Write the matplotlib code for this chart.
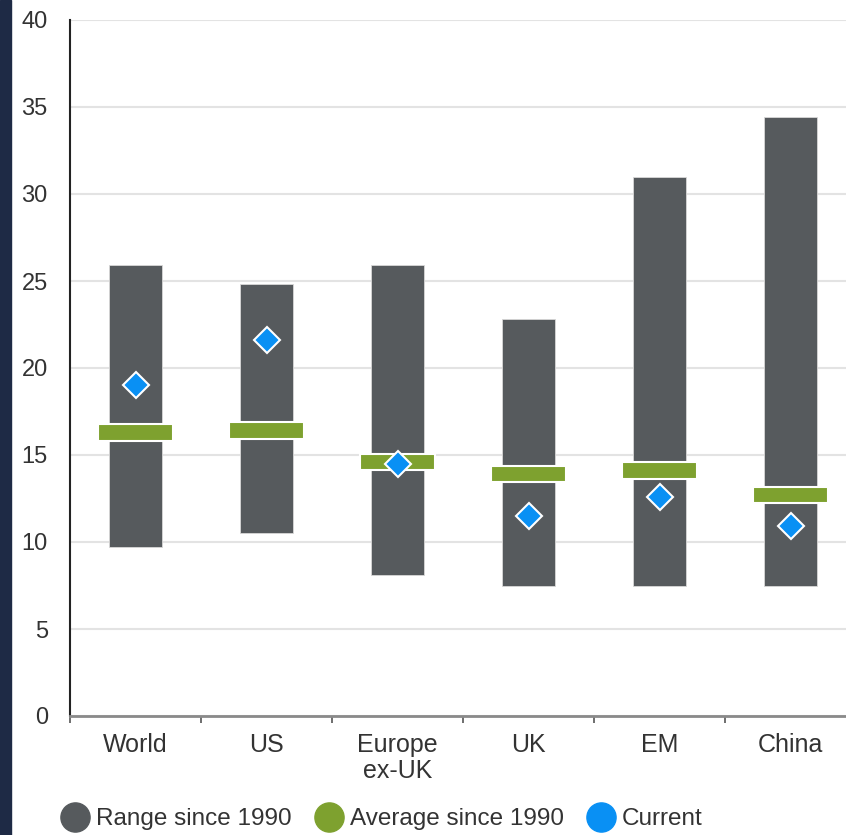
import numpy as np
import matplotlib
matplotlib.use('Agg')
import matplotlib.pyplot as plt
from matplotlib.patches import Rectangle
from matplotlib.lines import Line2D

plt.rcParams['font.family'] = ['Liberation Sans', 'DejaVu Sans']

# data
regions = ['World', 'US', 'Europe\nex-UK', 'UK', 'EM', 'China']
range_low = [9.7, 10.5, 8.1, 7.5, 7.5, 7.5]
range_high = [25.9, 24.8, 25.9, 22.8, 31.0, 34.4]
average = [16.3, 16.4, 14.6, 13.9, 14.1, 12.7]
current = [19.0, 21.6, 14.5, 11.5, 12.6, 10.9]

grey = '#565a5d'
green = '#7ea12f'
blue = '#0990f4'

fig = plt.figure(figsize=(8.46, 8.35), dpi=100)
fig.patches.append(Rectangle((0, 0), 11 / 846, 1, transform=fig.transFigure,
                             color='#1e2a45', zorder=0))

ax = fig.add_axes([70 / 846, 119 / 835, 786 / 846, 696 / 835])
x = np.arange(len(regions))

# range bars
lo = np.array(range_low)
hi = np.array(range_high)
ax.bar(x, hi - lo, bottom=lo, width=0.4, color=grey,
       edgecolor='#d8d8d8', linewidth=0.6, zorder=2)

# average markers
avg = np.array(average)
ax.bar(x, 0.95, bottom=avg - 0.475, width=0.57, color=green,
       edgecolor='white', linewidth=1.5, zorder=3)

# current value
ax.plot(x, current, linestyle='none', marker='D', markersize=13,
        markerfacecolor=blue, markeredgecolor='white', markeredgewidth=1.5,
        zorder=4)

ax.set_ylim(0, 40)
ax.set_xlim(-0.5, len(regions) - 0.5)
ax.set_yticks(np.arange(0, 41, 5))
ax.yaxis.grid(True, color='#e3e3e3', linewidth=1.5, zorder=0)
ax.set_axisbelow(True)

ax.set_xticks(np.arange(-0.5, len(regions), 1.0))
ax.set_xticklabels([])
ax.set_xticks(x, minor=True)
ax.set_xticklabels(regions, minor=True, fontsize=18, color='#333333',
                   linespacing=1.1)
ax.tick_params(axis='x', which='minor', length=0, pad=12)
ax.tick_params(axis='x', which='major', length=5, width=1.2, color='#555555')
ax.tick_params(axis='y', length=0, pad=16, labelsize=17, labelcolor='#333333')

for s in ['top', 'right']:
    ax.spines[s].set_visible(False)
ax.spines['left'].set_color('#222222')
ax.spines['left'].set_linewidth(1.5)
ax.spines['bottom'].set_color('#8a8a8a')
ax.spines['bottom'].set_linewidth(2)

handles = [
    Line2D([], [], linestyle='none', marker='o', markersize=21, color=grey),
    Line2D([], [], linestyle='none', marker='o', markersize=21, color=green),
    Line2D([], [], linestyle='none', marker='o', markersize=21, color=blue),
]
labels = ['Range since 1990', 'Average since 1990', 'Current']
fig.legend(handles, labels, loc='center left', bbox_to_anchor=(0.063, 0.019),
           ncol=3, frameon=False, fontsize=17.5, handletextpad=0.35,
           columnspacing=1.05, handlelength=1.0, borderaxespad=0,
           labelcolor='#333333')

fig.savefig('out.png', dpi=100)
